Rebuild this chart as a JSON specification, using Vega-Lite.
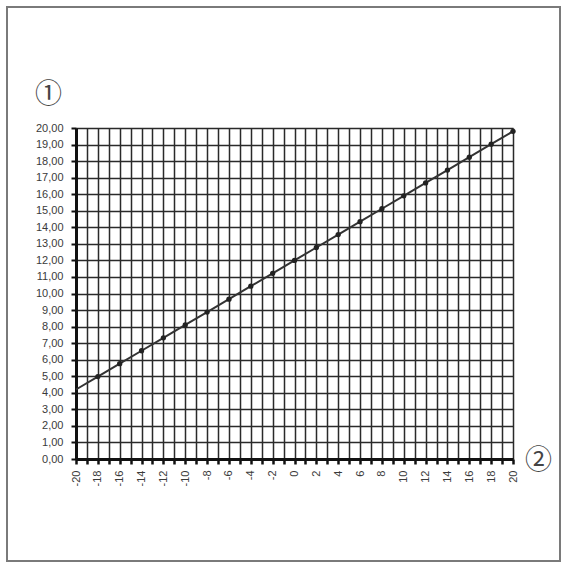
{
  "$schema": "https://vega.github.io/schema/vega-lite/v6.json",
  "width": 553,
  "height": 554,
  "autosize": "none",
  "padding": {"left": 7, "top": 7, "right": 2, "bottom": 4},
  "background": "white",
  "config": {
    "view": {"stroke": "#7a7a7a", "strokeWidth": 2},
    "axis": {
      "labelFont": "Liberation Sans",
      "labelFontSize": 11,
      "labelColor": "#3a3a3a",
      "domainColor": "#111",
      "domainWidth": 3,
      "tickColor": "#111",
      "tickWidth": 2,
      "gridColor": "#2a2a2a",
      "gridWidth": 1.5,
      "gridOpacity": 1,
      "titleFont": "Noto Sans CJK JP",
      "titleFontSize": 27,
      "titleFontWeight": "normal",
      "titleColor": "#444"
    }
  },
  "data": {
    "values": [
      {"x": -20, "y": 4.2},
      {"x": -18, "y": 4.98},
      {"x": -16, "y": 5.76},
      {"x": -14, "y": 6.54},
      {"x": -12, "y": 7.32},
      {"x": -10, "y": 8.1},
      {"x": -8, "y": 8.88},
      {"x": -6, "y": 9.66},
      {"x": -4, "y": 10.44},
      {"x": -2, "y": 11.22},
      {"x": 0, "y": 12.0},
      {"x": 2, "y": 12.78},
      {"x": 4, "y": 13.56},
      {"x": 6, "y": 14.34},
      {"x": 8, "y": 15.12},
      {"x": 10, "y": 15.9},
      {"x": 12, "y": 16.68},
      {"x": 14, "y": 17.46},
      {"x": 16, "y": 18.24},
      {"x": 18, "y": 19.02},
      {"x": 20, "y": 19.8}
    ]
  },
  "resolve": {"axis": {"x": "independent"}},
  "encoding": {
    "y": {
      "field": "y",
      "type": "quantitative",
      "scale": {"domain": [0, 20], "range": [452, 121], "nice": false},
      "axis": {
        "orient": "left",
        "offset": -69,
        "values": [0, 1, 2, 3, 4, 5, 6, 7, 8, 9, 10, 11, 12, 13, 14, 15, 16, 17, 18, 19, 20],
        "labelExpr": "replace(format(datum.value, '.2f'), '.', ',')",
        "labelPadding": 8,
        "labelOverlap": false,
        "labelFlush": false,
        "tickSize": 5,
        "title": "①",
        "titleAngle": 0,
        "titleAlign": "center",
        "titleBaseline": "middle",
        "titleX": -28,
        "titleY": 87
      }
    }
  },
  "layer": [
    {
      "mark": {"type": "line", "color": "#333", "strokeWidth": 2},
      "encoding": {
        "x": {
          "field": "x",
          "type": "quantitative",
          "scale": {"domain": [-20, 20], "range": [69, 506], "nice": false, "zero": false},
          "axis": {
            "orient": "top",
            "grid": true,
            "domain": false,
            "ticks": false,
            "labels": false,
            "title": null,
            "values": [-20, -19, -18, -17, -16, -15, -14, -13, -12, -11, -10, -9, -8, -7, -6, -5, -4, -3, -2, -1, 0, 1, 2, 3, 4, 5, 6, 7, 8, 9, 10, 11, 12, 13, 14, 15, 16, 17, 18, 19, 20]
          }
        }
      }
    },
    {
      "transform": [{"filter": "datum.x > -20"}],
      "mark": {"type": "point", "filled": true, "color": "#222", "size": 28, "opacity": 1},
      "encoding": {
        "x": {
          "field": "x",
          "type": "quantitative",
          "axis": {
            "orient": "bottom",
            "offset": -102,
            "grid": false,
            "values": [-20, -19, -18, -17, -16, -15, -14, -13, -12, -11, -10, -9, -8, -7, -6, -5, -4, -3, -2, -1, 0, 1, 2, 3, 4, 5, 6, 7, 8, 9, 10, 11, 12, 13, 14, 15, 16, 17, 18, 19, 20],
            "labelExpr": "datum.value % 2 == 0 ? '' + datum.value : ''",
            "labelAngle": -90,
            "labelPadding": 6,
            "labelOverlap": false,
            "labelFlush": false,
            "tickSize": 5,
            "tickWidth": 2.5,
            "title": "②",
            "titleAngle": 0,
            "titleAlign": "center",
            "titleBaseline": "middle",
            "titleX": 531,
            "titleY": 1
          }
        }
      }
    }
  ]
}
